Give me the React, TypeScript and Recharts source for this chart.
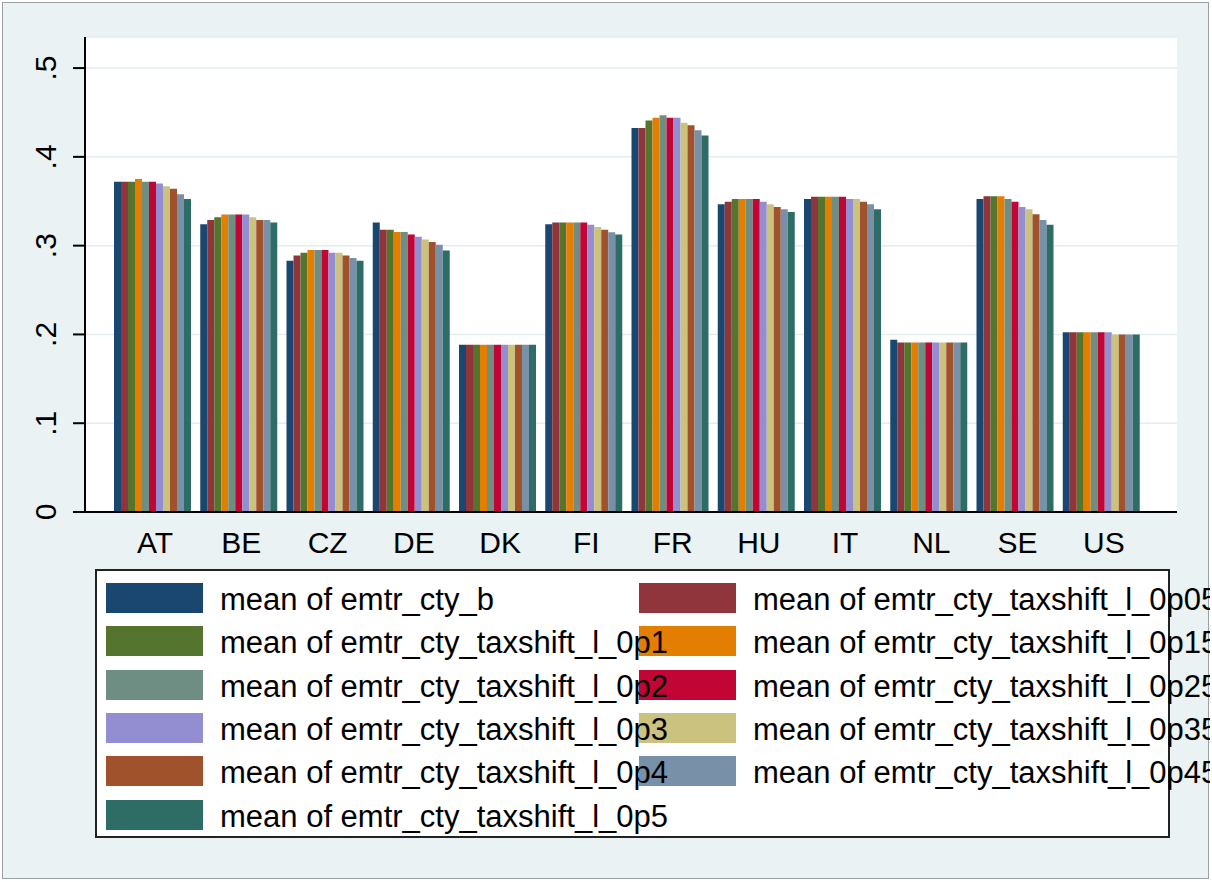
import { BarChart, Bar, XAxis, YAxis, CartesianGrid } from "recharts";

const countries = ["AT", "BE", "CZ", "DE", "DK", "FI", "FR", "HU", "IT", "NL", "SE", "US"];

const seriesKeys = ["b", "0p05", "0p1", "0p15", "0p2", "0p25", "0p3", "0p35", "0p4", "0p45", "0p5"];

const seriesLabels = [
  "mean of emtr_cty_b",
  "mean of emtr_cty_taxshift_l_0p05",
  "mean of emtr_cty_taxshift_l_0p1",
  "mean of emtr_cty_taxshift_l_0p15",
  "mean of emtr_cty_taxshift_l_0p2",
  "mean of emtr_cty_taxshift_l_0p25",
  "mean of emtr_cty_taxshift_l_0p3",
  "mean of emtr_cty_taxshift_l_0p35",
  "mean of emtr_cty_taxshift_l_0p4",
  "mean of emtr_cty_taxshift_l_0p45",
  "mean of emtr_cty_taxshift_l_0p5",
];

// stata s2color palette
const colors = [
  "#1A476F", "#90353B", "#55752F", "#E37E00", "#6E8E84", "#C10534",
  "#938DD2", "#CAC27E", "#A0522D", "#7890A8", "#2D6D66",
];

// values per series, in country order
const sB = [0.372, 0.324, 0.283, 0.326, 0.1885, 0.324, 0.4325, 0.3465, 0.3525, 0.194, 0.3525, 0.2024];
const s0p05 = [0.372, 0.329, 0.289, 0.318, 0.1885, 0.326, 0.4325, 0.3495, 0.355, 0.191, 0.3555, 0.2024];
const s0p1 = [0.372, 0.332, 0.292, 0.318, 0.1885, 0.326, 0.441, 0.3525, 0.355, 0.191, 0.3555, 0.2024];
const s0p15 = [0.375, 0.335, 0.295, 0.3155, 0.1885, 0.326, 0.444, 0.3525, 0.355, 0.191, 0.3555, 0.2024];
const s0p2 = [0.372, 0.335, 0.295, 0.3155, 0.1885, 0.326, 0.447, 0.3525, 0.355, 0.191, 0.3525, 0.2024];
const s0p25 = [0.372, 0.335, 0.295, 0.3125, 0.1885, 0.326, 0.444, 0.3525, 0.355, 0.191, 0.3495, 0.2024];
const s0p3 = [0.37, 0.335, 0.292, 0.31, 0.1885, 0.3235, 0.444, 0.3495, 0.3525, 0.191, 0.3435, 0.2024];
const s0p35 = [0.367, 0.332, 0.292, 0.307, 0.1885, 0.321, 0.4385, 0.3465, 0.3525, 0.191, 0.341, 0.1998];
const s0p4 = [0.364, 0.329, 0.289, 0.304, 0.1885, 0.318, 0.4355, 0.3435, 0.3495, 0.191, 0.3355, 0.1998];
const s0p45 = [0.358, 0.329, 0.286, 0.301, 0.1885, 0.315, 0.43, 0.341, 0.3465, 0.191, 0.329, 0.1998];
const s0p5 = [0.3525, 0.326, 0.283, 0.2945, 0.1885, 0.3125, 0.424, 0.338, 0.341, 0.191, 0.3235, 0.1998];

const seriesValues = [sB, s0p05, s0p1, s0p15, s0p2, s0p25, s0p3, s0p35, s0p4, s0p45, s0p5];

const yTicks = [0, 0.1, 0.2, 0.3, 0.4, 0.5];

const data = countries.map((c, i) => {
  const row: Record<string, string | number> = { country: c };
  seriesKeys.forEach((k, j) => {
    row[k] = seriesValues[j][i];
  });
  return row;
});

const FONT = "'Liberation Sans', Arial, sans-serif";

function YTick({ x, y, payload }: any) {
  const label = String(payload.value).replace(/^0\./, ".");
  return (
    <text
      x={x}
      y={y}
      transform={`rotate(-90 ${x} ${y})`}
      textAnchor="middle"
      fontFamily={FONT}
      fontSize={30}
      fill="#000"
    >
      {label}
    </text>
  );
}

function XTick({ x, y, payload }: any) {
  return (
    <text x={x} y={y + 41} textAnchor="middle" fontFamily={FONT} fontSize={30} fill="#000">
      {payload.value}
    </text>
  );
}

function StataLegend() {
  const rowTop = 583;
  const rowStep = 43.3;
  return (
    <>
      <div
        style={{
          position: "absolute",
          left: 95,
          top: 569,
          width: 1071,
          height: 265,
          border: "2px solid #222",
          background: "#fff",
        }}
      />
      {seriesLabels.map((label, i) => {
        const col = i % 2;
        const row = Math.floor(i / 2);
        const top = rowTop + row * rowStep;
        const swLeft = col === 0 ? 106 : 639;
        return (
          <div key={label}>
            <div
              style={{
                position: "absolute",
                left: swLeft,
                top,
                width: 97,
                height: 30,
                background: colors[i],
                zIndex: 1,
              }}
            />
            <div
              style={{
                position: "absolute",
                left: swLeft + 114,
                top: top + 2,
                height: 30,
                lineHeight: "30px",
                fontFamily: FONT,
                fontSize: 31,
                color: "#000",
                whiteSpace: "nowrap",
                zIndex: 2,
              }}
            >
              {label}
            </div>
          </div>
        );
      })}
    </>
  );
}

export default function App() {
  return (
    <div
      style={{
        position: "absolute",
        left: 0,
        top: 0,
        width: 1210,
        height: 882,
        overflow: "hidden",
        background: "#fff",
      }}
    >
      <div
        style={{
          position: "absolute",
          left: 2,
          top: 2,
          width: 1205,
          height: 875,
          background: "#EAF2F3",
          border: "1px solid #9AA0A4",
        }}
      />
      <div style={{ position: "absolute", left: 0, top: 0 }}>
        <BarChart
          width={1212}
          height={882}
          data={data}
          margin={{ top: 37, right: 35, bottom: 320, left: 25 }}
          barGap={0}
          barCategoryGap={2}
        >
          <CartesianGrid vertical={false} fill="#fff" stroke="#E3ECEF" strokeWidth={1.5} />
          <XAxis
            dataKey="country"
            height={50}
            padding={{ left: 27, right: 30 }}
            axisLine={{ stroke: "#000", strokeWidth: 2 }}
            tickLine={false}
            tickSize={0}
            tickMargin={0}
            tick={<XTick />}
            interval={0}
          />
          <YAxis
            width={60}
            domain={[0, 0.535]}
            ticks={yTicks}
            allowDataOverflow
            axisLine={{ stroke: "#000", strokeWidth: 2 }}
            tickLine={{ stroke: "#000", strokeWidth: 2 }}
            tickSize={12}
            tickMargin={17}
            tick={<YTick />}
          />
          {seriesKeys.map((k, i) => (
            <Bar key={k} dataKey={k} name={seriesLabels[i]} fill={colors[i]} isAnimationActive={false} />
          ))}
        </BarChart>
      </div>
      <StataLegend />
    </div>
  );
}
